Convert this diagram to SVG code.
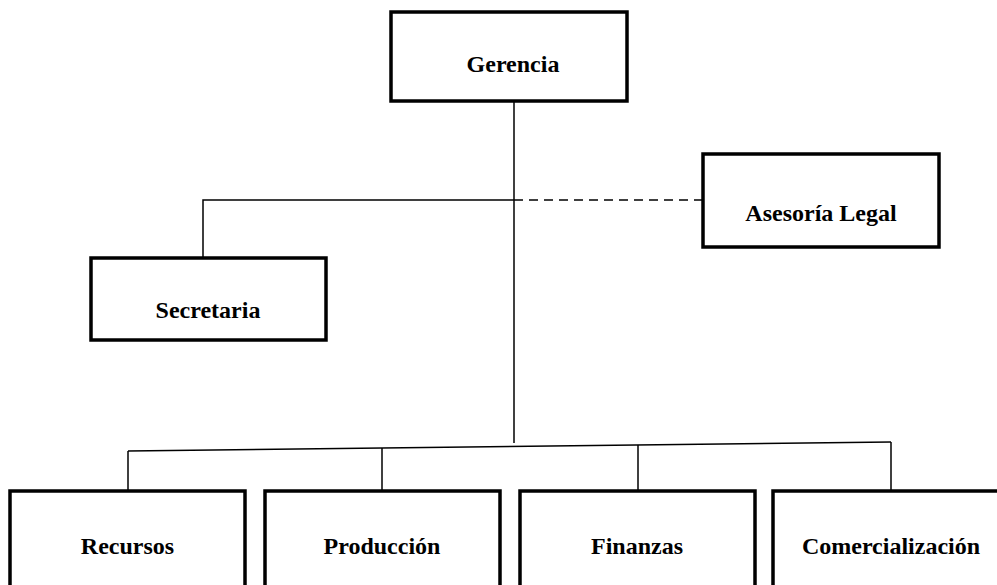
<svg xmlns="http://www.w3.org/2000/svg" width="997" height="585" viewBox="0 0 997 585">
  <style>
    .box { fill: #ffffff; stroke: #000000; stroke-width: 3.5; }
    .lbl { font-family: "Liberation Serif", "Times New Roman", serif; font-weight: bold; font-size: 24px; fill: #000000; text-anchor: middle; }
    .ln { fill: none; stroke: #000000; stroke-width: 1.5; }
    .dash { fill: none; stroke: #000000; stroke-width: 1.5; stroke-dasharray: 9 6; }
  </style>
  <rect width="997" height="585" fill="#ffffff"/>

  <!-- connectors -->
  <g id="connectors">
    <line class="ln" x1="514" y1="101" x2="514" y2="443"/>
    <polyline class="ln" points="514,200 203,200 203,258"/>
    <line class="dash" x1="514" y1="200" x2="703" y2="200"/>
    <line class="ln" x1="128" y1="451" x2="891" y2="442"/>
    <line class="ln" x1="128" y1="451" x2="128" y2="491"/>
    <line class="ln" x1="382" y1="448" x2="382" y2="491"/>
    <line class="ln" x1="638" y1="445" x2="638" y2="491"/>
    <line class="ln" x1="891" y1="442" x2="891" y2="491"/>
  </g>

  <g id="gerencia">
    <rect class="box" x="391" y="12" width="236" height="89"/>
    <text class="lbl" x="513" y="72">Gerencia</text>
  </g>

  <g id="asesoria-legal">
    <rect class="box" x="703" y="154" width="236" height="93"/>
    <text class="lbl" x="821" y="221">Asesoría Legal</text>
  </g>

  <g id="secretaria">
    <rect class="box" x="91" y="258" width="235" height="82"/>
    <text class="lbl" x="208" y="318">Secretaria</text>
  </g>

  <g id="recursos">
    <rect class="box" x="10" y="491" width="235" height="110"/>
    <text class="lbl" x="127.5" y="554">Recursos</text>
  </g>

  <g id="produccion">
    <rect class="box" x="265" y="491" width="235" height="110"/>
    <text class="lbl" x="382" y="554">Producción</text>
  </g>

  <g id="finanzas">
    <rect class="box" x="520" y="491" width="235" height="110"/>
    <text class="lbl" x="637" y="554">Finanzas</text>
  </g>

  <g id="comercializacion">
    <rect class="box" x="773" y="491" width="240" height="110"/>
    <text class="lbl" x="891" y="554">Comercialización</text>
  </g>
</svg>
